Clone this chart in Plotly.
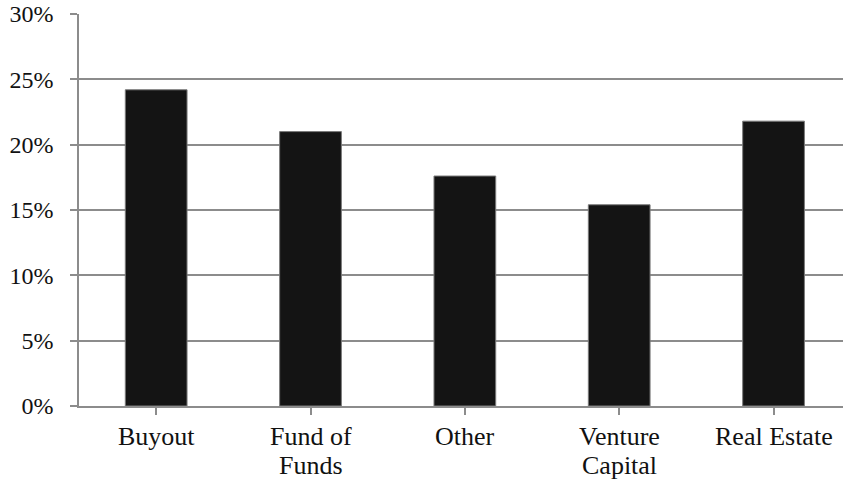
import plotly.graph_objects as go

# Share of fund strategies (percent)
categories = ["Buyout", "Fund of\nFunds", "Other", "Venture\nCapital", "Real Estate"]
values = [0.242, 0.210, 0.176, 0.154, 0.218]
y_ticks = [0, 0.05, 0.10, 0.15, 0.20, 0.25, 0.30]

grid_color = "#8c8c8c"
font_family = "Liberation Serif, Times New Roman, serif"
font = dict(family=font_family, size=24, color="#111111")
label_font = dict(family=font_family, size=26, color="#111111")

positions = list(range(len(categories)))

fig = go.Figure(
    go.Bar(
        x=positions,
        y=values,
        width=0.4,
        marker=dict(color="#141414", line=dict(color="#7a7a7a", width=1)),
        hoverinfo="skip",
    )
)

# Category labels, one annotation per text line for tighter line spacing
annotations = []
for pos, label in zip(positions, categories):
    for i, line in enumerate(label.split("\n")):
        annotations.append(dict(
            x=pos, y=0, xref="x", yref="y",
            text=line, showarrow=False,
            xanchor="center", yanchor="top",
            yshift=-15 - 29 * i,
            borderpad=0,
            font=label_font,
        ))

fig.update_layout(
    width=843,
    height=483,
    margin=dict(l=79, r=0, t=14, b=77),
    paper_bgcolor="white",
    plot_bgcolor="white",
    font=font,
    showlegend=False,
    bargap=0.6,
    annotations=annotations,
)

fig.update_xaxes(
    range=[-0.5, 4.45],
    tickmode="array",
    tickvals=positions,
    showticklabels=False,
    showgrid=False,
    showline=True,
    linecolor=grid_color,
    linewidth=1.5,
    ticks="outside",
    tickson="boundaries",
    ticklen=7,
    tickcolor=grid_color,
    tickwidth=1.5,
    layer="above traces",
    zeroline=False,
    automargin=False,
)

fig.update_yaxes(
    range=[0, 0.30],
    tickvals=y_ticks,
    tickformat=".0%",
    showgrid=True,
    gridcolor=grid_color,
    gridwidth=1.5,
    showline=True,
    linecolor=grid_color,
    linewidth=1.5,
    ticks="outside",
    ticklen=7,
    tickcolor=grid_color,
    tickwidth=1.5,
    ticklabelstandoff=12,
    layer="above traces",
    zeroline=False,
    automargin=False,
)

fig.write_html("out.html")
